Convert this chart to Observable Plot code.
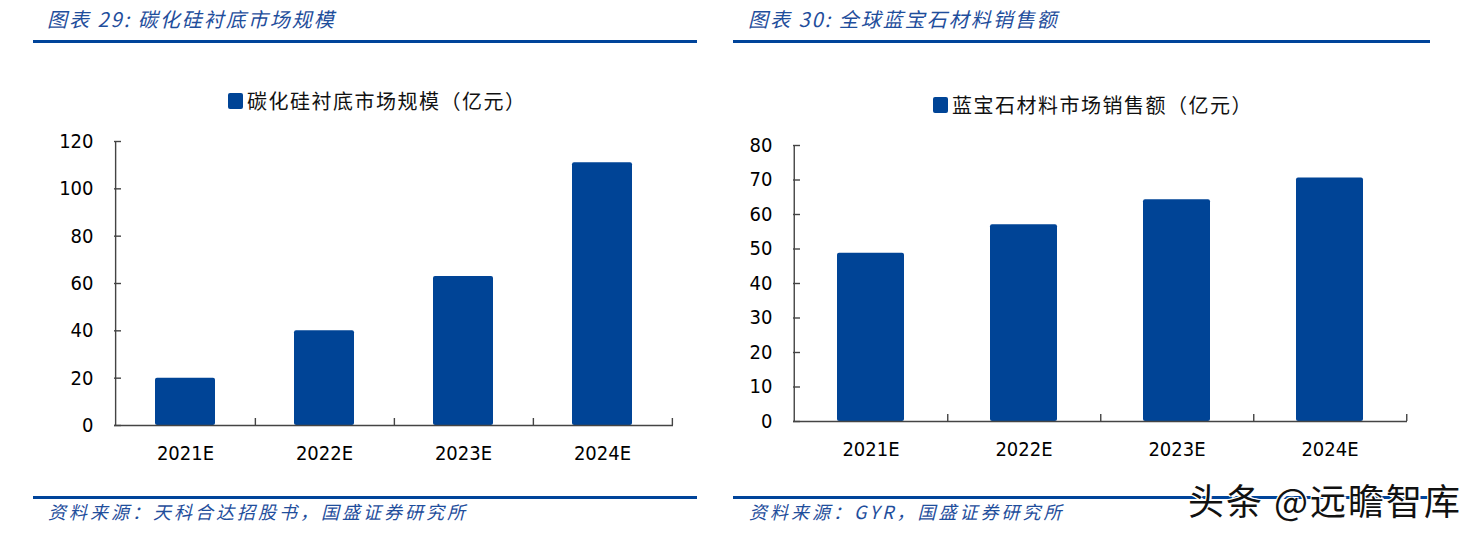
<!DOCTYPE html>
<html>
<head>
<meta charset="utf-8">
<script src="https://cdn.jsdelivr.net/npm/d3@7"></script>
<script src="https://cdn.jsdelivr.net/npm/@observablehq/plot@0.6"></script>
<style>
  html, body { margin: 0; padding: 0; background: #fff; }
  #root { position: relative; width: 1481px; height: 540px; overflow: hidden; background: #fff; }
  .abs { position: absolute; white-space: nowrap; }
  .hdr { font-family: "Noto Sans CJK SC", sans-serif; font-style: italic; color: #1f4e9c; font-size: 20px; letter-spacing: 2px; }
  .rule { position: absolute; height: 3px; background: #00449a; }
  .legend { font-family: "Noto Sans CJK SC", sans-serif; font-size: 20px; color: #111; display: flex; align-items: center; letter-spacing: 1.5px; }
  .legend .sw { width: 15px; height: 16px; background: #004496; border-radius: 2px; margin-right: 4px; }
  .src { font-family: "Noto Sans CJK SC", sans-serif; font-style: italic; color: #1f4e9c; font-size: 18px; letter-spacing: 3px; }
  .wm { font-family: "Noto Sans CJK SC", sans-serif; font-size: 36px; color: #111; text-shadow: 2px 2px 0 #fff, -1px -1px 0 #fff, 1px -1px 0 #fff, -1px 1px 0 #fff; letter-spacing: 2px; }
</style>
</head>
<body>
<div id="root"></div>
<script>
// ---- data ----
const leftTitle = "图表 29:  碳化硅衬底市场规模";
const leftLegend = "碳化硅衬底市场规模（亿元）";
const leftSource = "资料来源：天科合达招股书，国盛证券研究所";
const leftCategories = ["2021E", "2022E", "2023E", "2024E"];
const leftValues = [20, 40, 63, 111];
const leftTicks = [0, 20, 40, 60, 80, 100, 120];

const rightTitle = "图表 30:  全球蓝宝石材料销售额";
const rightLegend = "蓝宝石材料市场销售额（亿元）";
const rightSource = "资料来源：GYR，国盛证券研究所";
const rightCategories = ["2021E", "2022E", "2023E", "2024E"];
const rightValues = [48.8, 57, 64.3, 70.6];
const rightTicks = [0, 10, 20, 30, 40, 50, 60, 70, 80];

const watermark = "头条 @远瞻智库";

const barColor = "#004496";
const axisColor = "#444";
const tickFont = "'DejaVu Sans Condensed', 'DejaVu Sans', sans-serif";

const root = document.getElementById("root");
function addDiv(cls, text, css) {
  const d = document.createElement("div");
  d.className = cls;
  if (text != null) d.textContent = text;
  Object.assign(d.style, css);
  root.appendChild(d);
  return d;
}
function addLegend(text, css) {
  const d = addDiv("abs legend", null, css);
  const sw = document.createElement("span"); sw.className = "sw";
  const t = document.createElement("span"); t.textContent = text;
  d.appendChild(sw); d.appendChild(t);
}

function barChart({categories, values, ticks, width, height, marginLeft, marginRight, marginTop, marginBottom, padding}) {
  const data = categories.map((c, i) => ({cat: c, value: values[i]}));
  const step = (width - marginLeft - marginRight) / categories.length;
  return Plot.plot({
    width, height, marginLeft, marginRight, marginTop, marginBottom,
    style: {fontFamily: tickFont, fontSize: "20px", color: "#000", background: "transparent", overflow: "visible"},
    x: {domain: categories, paddingInner: padding, paddingOuter: padding / 2, label: null},
    y: {domain: [ticks[0], ticks[ticks.length - 1]], label: null},
    marks: [
      Plot.barY(data, {x: "cat", y: "value", fill: barColor, rx: 2}),
      Plot.ruleY([0], {stroke: axisColor, strokeWidth: 1.4}),
      Plot.ruleX([categories[0]], {y1: ticks[0], y2: ticks[ticks.length - 1], dx: -step / 2, stroke: axisColor, strokeWidth: 1.4}),
      Plot.ruleX(categories, {y1: 0, y2: 0, insetTop: -7, dx: step / 2, stroke: axisColor, strokeWidth: 1.4}),
      Plot.axisY({ticks, tickSize: -7, tickPadding: 28, stroke: axisColor, strokeWidth: 1.4, fill: "#000", label: null}),
      Plot.axisX({tickSize: 0, tickPadding: 20, fill: "#000", label: null})
    ]
  });
}

// headers
addDiv("abs hdr", leftTitle, {left: "47px", top: "4px"});
addDiv("abs hdr", rightTitle, {left: "748px", top: "4px"});
addDiv("rule", null, {left: "33px", top: "40px", width: "664px"});
addDiv("rule", null, {left: "733px", top: "40px", width: "697px"});

// legends
addLegend(leftLegend, {left: "228px", top: "86px"});
addLegend(rightLegend, {left: "933px", top: "90px"});

// charts
const left = barChart({categories: leftCategories, values: leftValues, ticks: leftTicks,
  width: 700, height: 350, marginLeft: 114, marginRight: 27, marginTop: 21, marginBottom: 45, padding: 0.565});
Object.assign(left.style, {position: "absolute", left: "0px", top: "120px"});
root.appendChild(left);

const right = barChart({categories: rightCategories, values: rightValues, ticks: rightTicks,
  width: 720, height: 350, marginLeft: 73, marginRight: 33, marginTop: 25, marginBottom: 49, padding: 0.565});
Object.assign(right.style, {position: "absolute", left: "720px", top: "120px"});
root.appendChild(right);

// footers
addDiv("rule", null, {left: "33px", top: "496px", width: "664px"});
addDiv("rule", null, {left: "733px", top: "496px", width: "697px"});
addDiv("abs src", leftSource, {left: "48px", top: "498px"});
addDiv("abs src", rightSource, {left: "749px", top: "498px"});
addDiv("abs wm", watermark, {left: "1188px", top: "473px"});
</script>
</body>
</html>
